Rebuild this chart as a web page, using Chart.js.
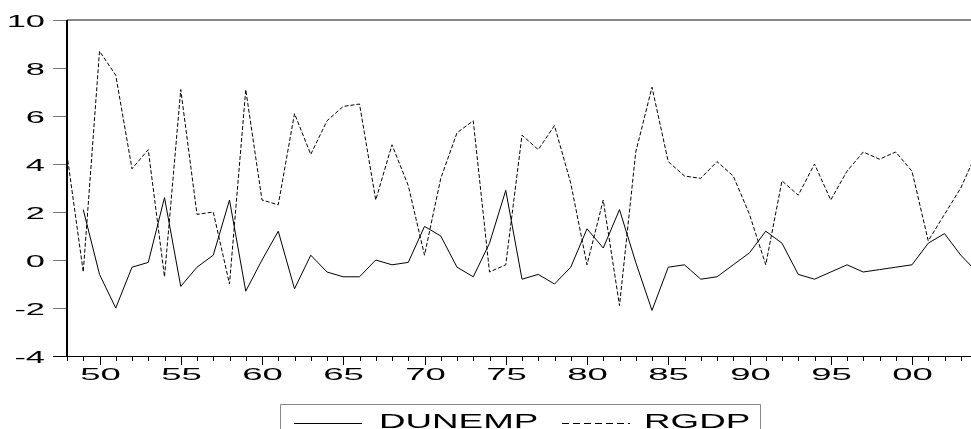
<!DOCTYPE html>
<html>
<head>
<meta charset="utf-8">
<script src="https://cdn.jsdelivr.net/npm/chart.js@4"></script>
<style>
  html, body { margin: 0; padding: 0; background: #fff; overflow: hidden; }
  #wrap { width: 971px; height: 429px; overflow: hidden; }
</style>
</head>
<body>
<div id="wrap"><canvas id="chart" width="990" height="429"></canvas></div>
<script>
const years = [1948, 1949, 1950, 1951, 1952, 1953, 1954, 1955, 1956, 1957,
               1958, 1959, 1960, 1961, 1962, 1963, 1964, 1965, 1966, 1967,
               1968, 1969, 1970, 1971, 1972, 1973, 1974, 1975, 1976, 1977,
               1978, 1979, 1980, 1981, 1982, 1983, 1984, 1985, 1986, 1987,
               1988, 1989, 1990, 1991, 1992, 1993, 1994, 1995, 1996, 1997,
               1998, 1999, 2000, 2001, 2002, 2003, 2004];

// change in unemployment rate (first year has no difference)
const dunemp = [null, 2.1, -0.6, -2.0, -0.3, -0.1, 2.6, -1.1, -0.3, 0.2,
                2.5, -1.3, 0.0, 1.2, -1.2, 0.2, -0.5, -0.7, -0.7, 0.0,
                -0.2, -0.1, 1.4, 1.0, -0.3, -0.7, 0.7, 2.9, -0.8, -0.6,
                -1.0, -0.3, 1.3, 0.5, 2.1, -0.1, -2.1, -0.3, -0.2, -0.8,
                -0.7, -0.2, 0.3, 1.2, 0.7, -0.6, -0.8, -0.5, -0.2, -0.5,
                -0.4, -0.3, -0.2, 0.7, 1.1, 0.2, -0.5];

// real GDP growth, percent
const rgdp = [4.4, -0.5, 8.7, 7.7, 3.8, 4.6, -0.7, 7.1, 1.9, 2.0,
              -1.0, 7.1, 2.5, 2.3, 6.1, 4.4, 5.8, 6.4, 6.5, 2.5,
              4.8, 3.1, 0.2, 3.4, 5.3, 5.8, -0.5, -0.2, 5.2, 4.6,
              5.6, 3.2, -0.2, 2.5, -1.9, 4.5, 7.2, 4.1, 3.5, 3.4,
              4.1, 3.5, 1.9, -0.2, 3.3, 2.7, 4.0, 2.5, 3.7, 4.5,
              4.2, 4.5, 3.7, 0.8, 1.9, 3.0, 4.5];

const yMin = -4, yMax = 10, yStep = 2;

// draw text stretched horizontally
function wideText(ctx, str, x, y, sx, align) {
    const w = ctx.measureText(str).width * sx;
    const left = align === 'right' ? x - w : align === 'center' ? x - w / 2 : x;
    ctx.save();
    ctx.translate(left, y);
    ctx.scale(sx, 1);
    ctx.textAlign = 'left';
    ctx.fillText(str, 0, 0);
    ctx.restore();
}

const framePlugin = {
    id: 'frame',
    afterDraw(chart) {
        const { ctx, chartArea: a, scales: { x, y } } = chart;
        ctx.save();
        ctx.fillStyle = '#000';
        ctx.textBaseline = 'alphabetic';
        ctx.font = '16px "Liberation Sans", Arial, sans-serif';

        // y ticks + labels
        y.ticks.forEach(t => {
            const py = Math.round(y.getPixelForValue(t.value)) + 0.5;
            ctx.strokeStyle = '#777';
            ctx.lineWidth = 1;
            ctx.beginPath();
            ctx.moveTo(a.left - 14, py);
            ctx.lineTo(a.left, py);
            ctx.stroke();
            wideText(ctx, String(t.value), 45, py + 6, 2.15, 'right');
        });

        // frame: grey top, black left and bottom
        ctx.strokeStyle = '#888';
        ctx.lineWidth = 2;
        ctx.beginPath();
        ctx.moveTo(a.left, a.top);
        ctx.lineTo(a.right, a.top);
        ctx.lineTo(a.right, a.bottom);
        ctx.stroke();
        ctx.strokeStyle = '#000';
        ctx.beginPath();
        ctx.moveTo(a.left, a.top);
        ctx.lineTo(a.left, a.bottom);
        ctx.stroke();
        ctx.lineWidth = 1;
        ctx.beginPath();
        ctx.moveTo(a.left - 14, a.bottom + 0.5);
        ctx.lineTo(a.right, a.bottom + 0.5);
        ctx.stroke();

        // x ticks: minor each year, major + label every five
        years.forEach((yr, i) => {
            const px = Math.round(x.getPixelForValue(i)) + 0.5;
            const major = yr % 5 === 0;
            ctx.beginPath();
            ctx.moveTo(px, a.bottom);
            ctx.lineTo(px, a.bottom + (major ? 9 : 5));
            ctx.stroke();
            if (major) {
                ctx.font = '17px "Liberation Sans", Arial, sans-serif';
                wideText(ctx, String(yr).slice(2), px, a.bottom + 24, 2.15, 'center');
            }
        });

        // legend box
        const ds = chart.data.datasets;
        ctx.strokeStyle = '#888';
        ctx.lineWidth = 1;
        ctx.beginPath();
        ctx.moveTo(280.5, 440);
        ctx.lineTo(280.5, 404.5);
        ctx.lineTo(760.5, 404.5);
        ctx.lineTo(760.5, 440);
        ctx.stroke();

        ctx.font = '21px "Liberation Sans", Arial, sans-serif';
        ctx.strokeStyle = '#000';
        ctx.beginPath();
        ctx.moveTo(294, 423.5);
        ctx.lineTo(362, 423.5);
        ctx.stroke();
        wideText(ctx, ds[0].label, 379, 428, 1.75, 'left');

        ctx.setLineDash([7, 4]);
        ctx.beginPath();
        ctx.moveTo(562, 423.5);
        ctx.lineTo(630, 423.5);
        ctx.stroke();
        ctx.setLineDash([]);
        wideText(ctx, ds[1].label, 644, 428, 1.75, 'left');
        ctx.restore();
    }
};

new Chart(document.getElementById('chart'), {
    type: 'line',
    data: {
        labels: years,
        datasets: [
            { label: 'DUNEMP', data: dunemp, borderColor: '#000', borderWidth: 1, pointRadius: 0, tension: 0, fill: false },
            { label: 'RGDP', data: rgdp, borderColor: '#000', borderWidth: 1, borderDash: [4, 2], pointRadius: 0, tension: 0, fill: false }
        ]
    },
    options: {
        responsive: false,
        animation: false,
        devicePixelRatio: 1,
        layout: { padding: { top: 20, right: 13, left: 0, bottom: 0 } },
        plugins: { legend: { display: false }, tooltip: { enabled: false } },
        scales: {
            x: {
                offset: false,
                grid: { display: false },
                border: { display: false },
                ticks: { display: false },
                afterFit: s => { s.height = 73; }
            },
            y: {
                min: yMin, max: yMax,
                grid: { display: false },
                border: { display: false },
                ticks: { display: false, stepSize: yStep },
                afterFit: s => { s.width = 67; }
            }
        }
    },
    plugins: [framePlugin]
});
</script>
</body>
</html>
